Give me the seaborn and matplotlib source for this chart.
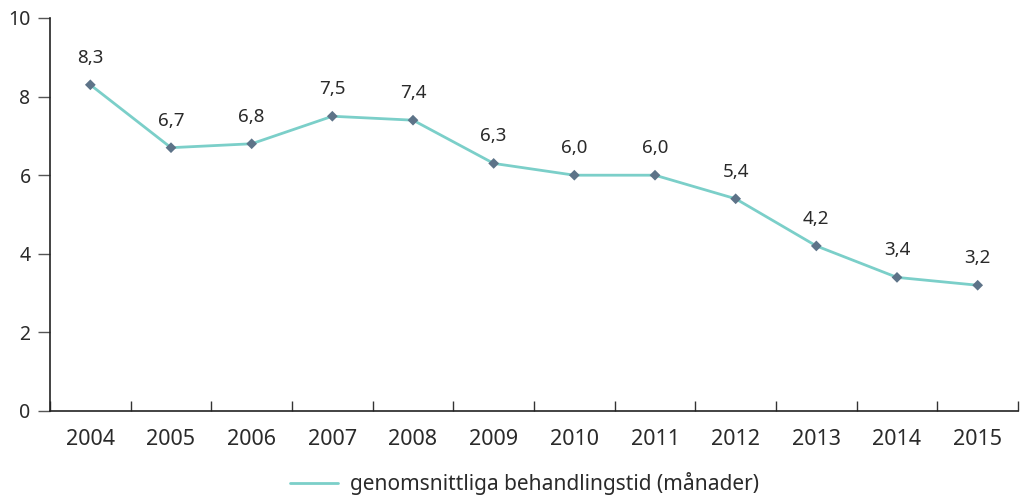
import pandas as pd
import seaborn as sns
import matplotlib.pyplot as plt
from matplotlib.ticker import FixedLocator

# Values
years = ['2004', '2005', '2006', '2007', '2008', '2009',
         '2010', '2011', '2012', '2013', '2014', '2015']
months = [8.3, 6.7, 6.8, 7.5, 7.4, 6.3, 6.0, 6.0, 5.4, 4.2, 3.4, 3.2]
series_name = 'genomsnittliga behandlingstid (månader)'

df = pd.DataFrame({'year': years, 'months': months})

sns.set_style('white')
plt.rcParams['font.family'] = ['Noto Sans', 'DejaVu Sans']

fig = plt.figure(figsize=(10.22, 4.97), dpi=100)
ax = fig.add_axes([50 / 1022, 86 / 497, 968 / 1022, 393 / 497])

sns.lineplot(data=df, x='year', y='months', ax=ax, color='#7bcfc9', linewidth=2,
             label=series_name)
# diamond markers on top of the line
sns.scatterplot(data=df, x='year', y='months', ax=ax, marker='D', s=30,
                color='#5d7388', edgecolor='none', zorder=3, legend=False)

# data labels with decimal comma
for i, v in enumerate(months):
    ax.annotate(f'{v:.1f}'.replace('.', ','), (i, v), xytext=(0, 13),
                textcoords='offset points', ha='center', va='bottom',
                fontsize=13.5, color='#2a2a2a')

ax.set_xlim(-0.5, len(years) - 0.5)
ax.set_ylim(0, 10)
ax.set_yticks([0, 2, 4, 6, 8, 10])
ax.set_xlabel('')
ax.set_ylabel('')

# category axis: ticks on the boundaries, labels in the middle
ax.xaxis.set_minor_locator(FixedLocator([i - 0.5 for i in range(len(years) + 1)]))
ax.tick_params(axis='x', which='both', bottom=True)
ax.tick_params(axis='y', which='major', left=True)
ax.tick_params(axis='x', which='major', length=0, labelsize=15.5, pad=13, colors='#2a2a2a')
ax.tick_params(axis='x', which='minor', direction='in', length=7, width=1, color='#333333')
ax.tick_params(axis='y', which='major', direction='out', length=9, width=1,
               labelsize=14, pad=5, color='#555555', labelcolor='#2a2a2a')

for s in ['top', 'right']:
    ax.spines[s].set_visible(False)
for s in ['left', 'bottom']:
    ax.spines[s].set_color('#222222')
    ax.spines[s].set_linewidth(1.2)

leg = ax.legend(loc='center', bbox_to_anchor=(0.49, -0.185), frameon=False,
                fontsize=15, handlelength=2.3, handletextpad=0.6)
for t in leg.get_texts():
    t.set_color('#2a2a2a')

plt.savefig('out.png', dpi=100)
